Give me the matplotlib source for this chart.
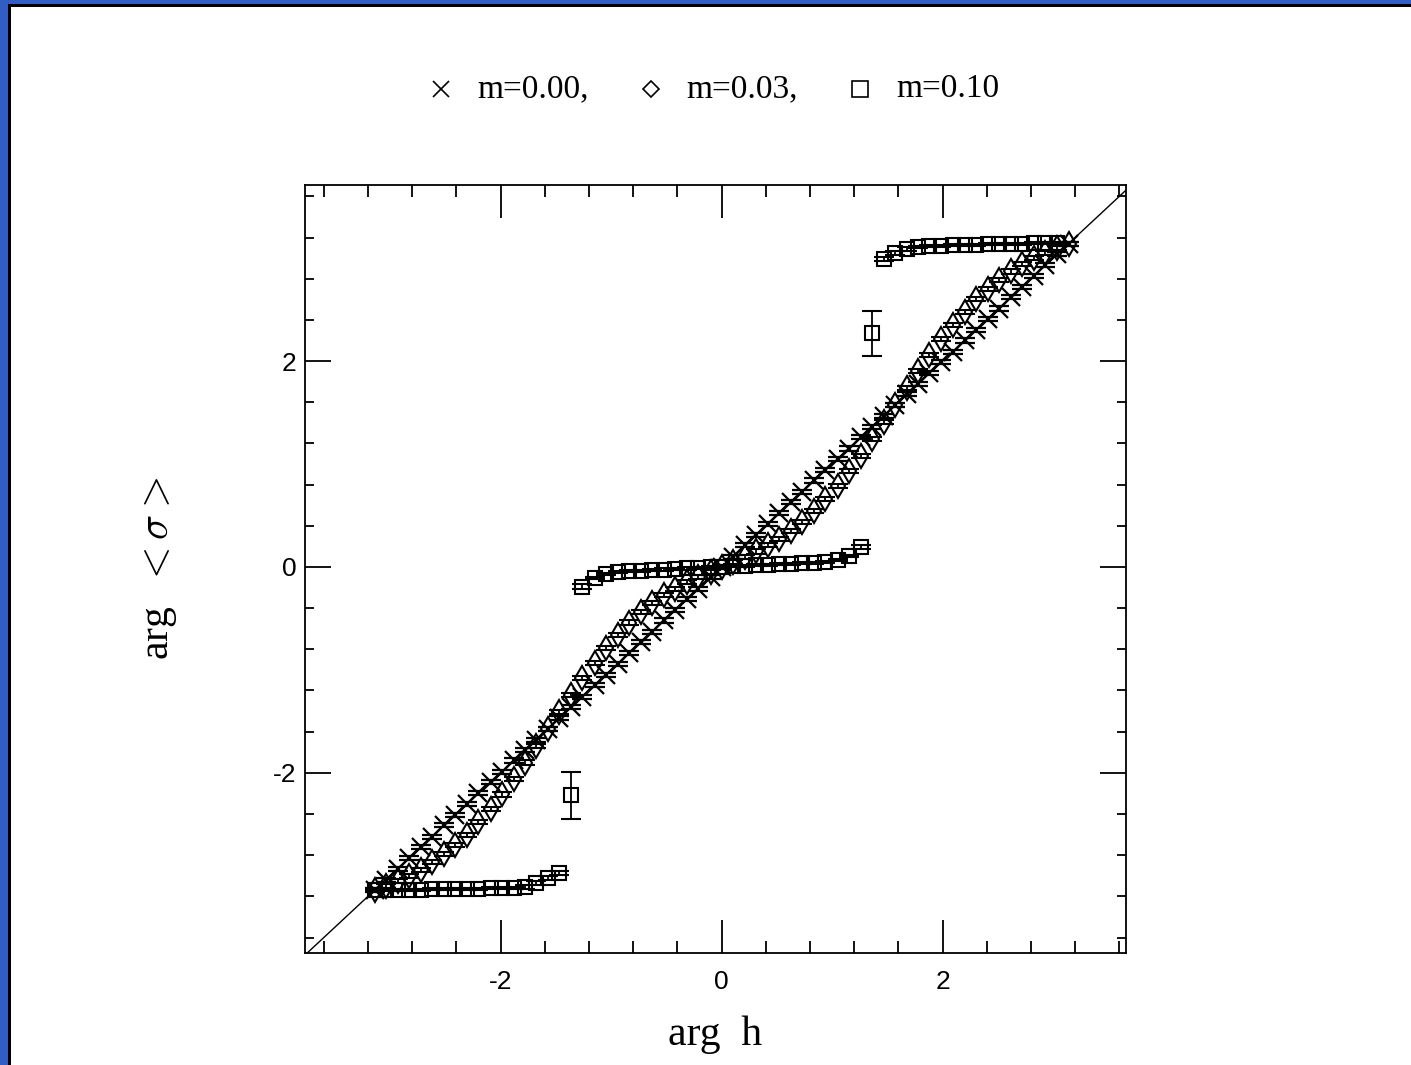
import numpy as np
import matplotlib
matplotlib.use("Agg")
import matplotlib.pyplot as plt
from matplotlib.lines import Line2D
from matplotlib.patches import Rectangle
from matplotlib.ticker import MultipleLocator

plt.rcParams["axes.unicode_minus"] = False
plt.rcParams["mathtext.fontset"] = "cm"

# arg h grid (same for all three masses)
arg_h = [-3.14, -3.04, -2.93, -2.83, -2.72, -2.62, -2.51, -2.41, -2.30, -2.20,
         -2.09, -1.99, -1.88, -1.78, -1.68, -1.57, -1.47, -1.36, -1.26, -1.15,
         -1.05, -0.94, -0.84, -0.73, -0.63, -0.52, -0.42, -0.31, -0.21, -0.10,
         0.00, 0.10, 0.21, 0.31, 0.42, 0.52, 0.63, 0.73, 0.84, 0.94,
         1.05, 1.15, 1.26, 1.36, 1.47, 1.57, 1.68, 1.78, 1.88, 1.99,
         2.09, 2.20, 2.30, 2.41, 2.51, 2.62, 2.72, 2.83, 2.93, 3.04, 3.14]

# m = 0.00
sig_m000 = [-3.14, -3.04, -2.93, -2.83, -2.72, -2.62, -2.51, -2.41, -2.30, -2.20,
            -2.09, -1.99, -1.88, -1.78, -1.68, -1.57, -1.47, -1.36, -1.26, -1.15,
            -1.05, -0.94, -0.84, -0.73, -0.63, -0.52, -0.42, -0.31, -0.21, -0.10,
            0.00, 0.10, 0.21, 0.31, 0.42, 0.52, 0.63, 0.73, 0.84, 0.94,
            1.05, 1.15, 1.26, 1.36, 1.47, 1.57, 1.68, 1.78, 1.88, 1.99,
            2.09, 2.20, 2.30, 2.41, 2.51, 2.62, 2.72, 2.83, 2.93, 3.04, 3.14]
err_m000 = [0.02] * 61

# m = 0.03
sig_m003 = [-3.14, -3.10, -3.05, -3.00, -2.94, -2.87, -2.79, -2.70, -2.60, -2.48,
            -2.35, -2.21, -2.06, -1.90, -1.74, -1.57, -1.41, -1.24, -1.08, -0.93,
            -0.79, -0.66, -0.54, -0.44, -0.35, -0.27, -0.21, -0.15, -0.10, -0.05,
            0.00, 0.05, 0.10, 0.15, 0.21, 0.27, 0.35, 0.44, 0.54, 0.66,
            0.79, 0.93, 1.08, 1.24, 1.41, 1.57, 1.74, 1.90, 2.06, 2.21,
            2.35, 2.48, 2.60, 2.70, 2.79, 2.87, 2.94, 3.00, 3.05, 3.10, 3.14]
err_m003 = [0.02] * 61

# m = 0.10 (last grid point absent)
arg_h_m010 = arg_h[:-1]
sig_m010 = [-3.14, -3.14, -3.14, -3.14, -3.14, -3.13, -3.13, -3.13, -3.13, -3.13,
            -3.12, -3.12, -3.12, -3.11, -3.07, -3.02, -2.97, -2.22, -0.19, -0.11,
            -0.07, -0.05, -0.04, -0.035, -0.03, -0.025, -0.02, -0.015, -0.01, -0.005,
            0.00, 0.005, 0.01, 0.015, 0.02, 0.025, 0.03, 0.035, 0.04, 0.05,
            0.07, 0.11, 0.19, 2.27, 2.99, 3.05, 3.09, 3.11, 3.12, 3.12,
            3.13, 3.13, 3.13, 3.14, 3.14, 3.14, 3.14, 3.15, 3.15, 3.15]
err_m010 = [0.01] * 13 + [0.02, 0.02, 0.02, 0.02, 0.23, 0.02] + [0.01] * 23 + \
           [0.02, 0.22, 0.02, 0.02, 0.02] + [0.01] * 13

legend_labels = ["m=0.00,", "m=0.03,", "m=0.10"]

fig = plt.figure(figsize=(14.11, 10.65), dpi=100)
W, H = 1411.0, 1065.0

# blue frame on the top and left edges
fig.add_artist(Rectangle((0, 1 - 4 / H), 1, 4 / H, transform=fig.transFigure,
                         color="#325dc4", lw=0))
fig.add_artist(Rectangle((8 / W, 1 - 7 / H), 1, 3 / H, transform=fig.transFigure,
                         color="black", lw=0))
fig.add_artist(Rectangle((0, 0), 8 / W, 1, transform=fig.transFigure,
                         color="#325dc4", lw=0))
fig.add_artist(Rectangle((8 / W, 0), 3 / W, 1 - 4 / H, transform=fig.transFigure,
                         color="black", lw=0))

ax = fig.add_axes([305 / W, 1 - 953 / H, 821 / W, 768 / H])

ax.axline((0, 0), slope=1, color="black", lw=1.0)

eb = dict(ls="none", color="black", ecolor="black", elinewidth=1.3,
          capsize=7.5, capthick=1.5, mfc="none")
ax.errorbar(arg_h, sig_m000, yerr=err_m000, marker="x", ms=13, mew=1.6, **eb)
ax.errorbar(arg_h, sig_m003, yerr=err_m003, marker="d", ms=12, mew=1.5, **eb)
ax.errorbar(arg_h_m010, sig_m010, yerr=err_m010, marker="s", ms=10.5, mew=1.5, **eb)

ax.set_xlim(-3.77, 3.66)
ax.set_ylim(-3.75, 3.71)
ax.xaxis.set_major_locator(MultipleLocator(2))
ax.xaxis.set_minor_locator(MultipleLocator(0.4))
ax.yaxis.set_major_locator(MultipleLocator(2))
ax.yaxis.set_minor_locator(MultipleLocator(0.4))

ax.tick_params(axis="both", which="both", direction="in", top=True, right=True,
               width=1.3, colors="black")
ax.tick_params(axis="x", which="major", length=24, pad=12)
ax.tick_params(axis="x", which="minor", length=8.5)
ax.tick_params(axis="y", which="major", length=19, pad=6)
ax.tick_params(axis="y", which="minor", length=6.5)
for lab in ax.get_xticklabels() + ax.get_yticklabels():
    lab.set_family(["Liberation Sans Narrow", "Liberation Sans"])
    lab.set_fontsize(19)
for s in ax.spines.values():
    s.set_linewidth(1.3)

ax.set_xlabel("arg  h", fontsize=30, family="Liberation Serif", labelpad=16)
ax.set_ylabel(r"arg  $<\sigma>$", fontsize=30, family="Liberation Serif", labelpad=68)

# legend row at the top
leg_y = 1 - 89 / H
markers = [("x", 12, 1.2), ("D", 8, 1.2), ("s", 11, 1.2)]
mark_x = [441, 651, 860]
text_x = [477, 686, 896]
for (mk, ms, mw), mx, tx, lab in zip(markers, mark_x, text_x, legend_labels):
    fig.add_artist(Line2D([mx / W], [leg_y], transform=fig.transFigure,
                          marker=mk, ms=ms, mew=mw, color="black", mfc="none",
                          ls="none"))
    fig.text(tx / W, leg_y, lab, fontsize=24, family="Liberation Serif",
             ha="left", va="center")

fig.savefig("out.png", dpi=100)
